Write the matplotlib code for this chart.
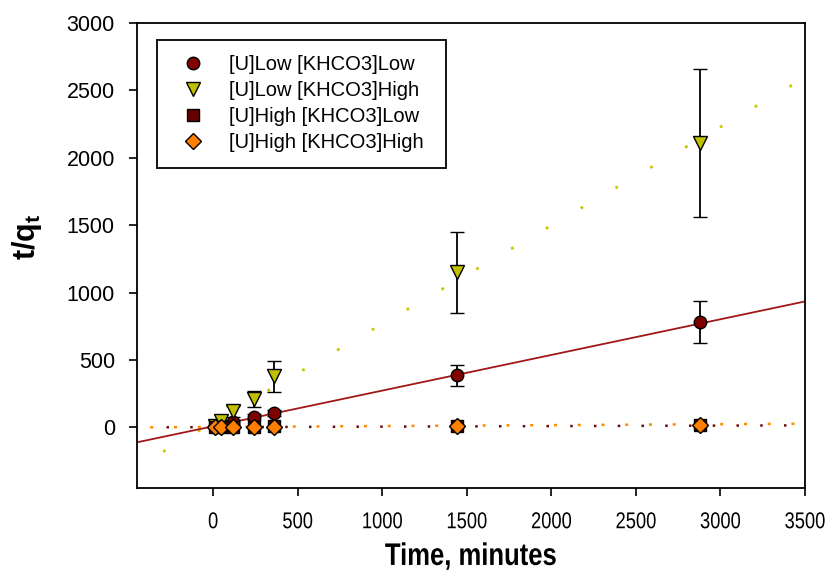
import numpy as np
import matplotlib
matplotlib.use("Agg")
import matplotlib.pyplot as plt
from matplotlib.lines import Line2D
from matplotlib.patheffects import AbstractPathEffect
from matplotlib.transforms import Affine2D

plt.rcParams['font.family'] = ['Liberation Sans', 'DejaVu Sans']
plt.rcParams['mathtext.fontset'] = 'custom'
plt.rcParams['mathtext.rm'] = 'Liberation Sans'
plt.rcParams['mathtext.it'] = 'Liberation Sans:bold'
plt.rcParams['mathtext.bf'] = 'Liberation Sans:bold'

# ---- data ----
time = [10, 45, 120, 240, 360, 1440, 2880]

ulow_klow = [5, 20, 40, 77, 107, 385, 781]
ulow_klow_err = [3, 6, 12, 20, 25, 77, 157]

ulow_khigh = [12, 44, 119, 210, 378, 1149, 2108]
ulow_khigh_err = [5, 12, 40, 58, 117, 302, 551]

uhigh_klow = [0.5, 2, 3, 6, 9, 8, 14]
uhigh_khigh = [0.5, 1.5, 3, 5, 6, 8, 20]

labels = ['[U]Low [KHCO3]Low', '[U]Low [KHCO3]High',
          '[U]High [KHCO3]Low', '[U]High [KHCO3]High']

# linear fits (slope, intercept, x-start)
fit_ulow_klow = (0.2646, 8.0, -450)
fit_ulow_khigh = (0.731, 36.0, -296)
fit_uhigh_klow = (0.0038, 1.5, -372)
fit_uhigh_khigh = (0.0069, 2.8, -372)

xticks = [0, 500, 1000, 1500, 2000, 2500, 3000, 3500]
yticks = [0, 500, 1000, 1500, 2000, 2500, 3000]

W, H, DPI = 8.32, 5.75, 100
fig = plt.figure(figsize=(W, H), dpi=DPI)
ax = fig.add_axes([0.1647, 0.1513, 0.8028, 0.8087])

xmin, xmax = -450, 3500
ymin, ymax = -450, 3000


class Condense(AbstractPathEffect):
    """Horizontally condense text (narrow font look), text stays real text."""

    def __init__(self, sx=0.82):
        super().__init__()
        self.sx = sx

    def draw_path(self, renderer, gc, tpath, affine, rgbFace=None):
        bb = tpath.get_extents(affine)
        cx = (bb.x0 + bb.x1) / 2
        new = affine + Affine2D().translate(-cx, 0).scale(self.sx, 1).translate(cx, 0)
        renderer.draw_path(gc, tpath, new, rgbFace)


def fit_line(fit, **kw):
    s, b, x0 = fit
    xl = np.array([x0, xmax])
    ax.plot(xl, s * xl + b, **kw)


fit_line(fit_uhigh_klow, color='#6b0d0d', lw=1.8, ls=(3, (1.0, 8.5)), zorder=2)
fit_line(fit_uhigh_khigh, color='#ff8c00', lw=1.8, ls=(0, (1.2, 8.3)), zorder=2)
fit_line(fit_ulow_khigh, color='#c8c800', lw=2.0, ls=(0, (1, 13.5)), zorder=2)
fit_line(fit_ulow_klow, color='#a01818', lw=1.3, zorder=2)

ek = dict(ecolor='black', elinewidth=1.3, capsize=5, capthick=1.3, zorder=3)
ax.errorbar(time, ulow_klow, yerr=ulow_klow_err, fmt='o', ms=9,
            mfc='#800000', mec='black', mew=1.0, **ek)
ax.errorbar(time, ulow_khigh, yerr=ulow_khigh_err, fmt='v', ms=10,
            mfc='#c0c000', mec='black', mew=1.0, **ek)
ax.plot(time, uhigh_klow, 's', ms=8, mfc='#660000', mec='black', mew=1.0, zorder=4)
ax.plot(time, uhigh_khigh, 'D', ms=8, mfc='#ff8000', mec='black', mew=1.0, zorder=5)

ax.set_xlim(xmin, xmax)
ax.set_ylim(ymin, ymax)
ax.set_xticks(xticks)
ax.set_yticks(yticks)
xlabels = ax.set_xticklabels([str(v) for v in xticks], fontsize=16.5)
for t in xlabels:
    t.set_path_effects([Condense(0.8)])
ax.set_yticklabels([str(v) for v in yticks], fontsize=15.5)
ax.tick_params(direction='out', length=6, width=1.2, colors='black')
ax.tick_params(axis='y', pad=10)
ax.tick_params(axis='x', pad=10)
for sp in ax.spines.values():
    sp.set_linewidth(1.3)
    sp.set_color('black')

xl_text = ax.set_xlabel('Time, minutes', fontsize=22.5, fontweight='bold')
xl_text.set_path_effects([Condense(0.82)])
ax.xaxis.set_label_coords(0.5, -0.116)

ax.set_ylabel(r'$\mathbf{t/q_t}$', fontsize=22)
ax.yaxis.set_label_coords(-0.14, 0.54)

handles = [
    Line2D([], [], ls='none', marker='o', ms=9, mfc='#800000', mec='black', mew=1.0),
    Line2D([], [], ls='none', marker='v', ms=10, mfc='#c0c000', mec='black', mew=1.0),
    Line2D([], [], ls='none', marker='s', ms=8, mfc='#660000', mec='black', mew=1.0),
    Line2D([], [], ls='none', marker='D', ms=8, mfc='#ff8000', mec='black', mew=1.0),
]
leg = ax.legend(handles, labels, loc='upper left',
                bbox_to_anchor=(0.030, 0.663, 0.4326, 0.3), mode='expand',
                fontsize=14.5, frameon=True, fancybox=False, edgecolor='black',
                framealpha=1, borderpad=0.75, labelspacing=0.35, handletextpad=0.7,
                borderaxespad=0, handlelength=2.1)
leg.get_frame().set_linewidth(1.3)

fig.savefig('out.png', dpi=DPI)
